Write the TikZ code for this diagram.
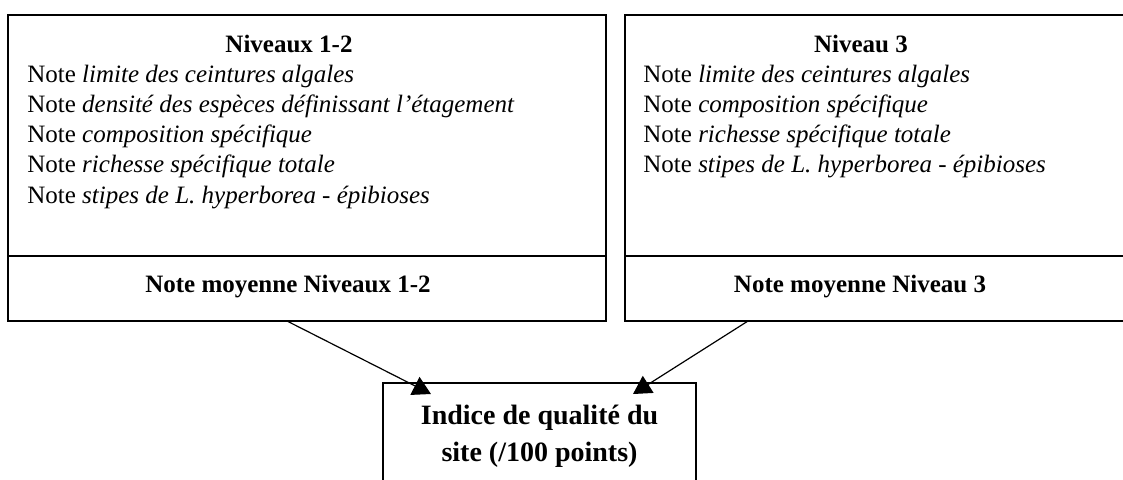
\documentclass[tikz,border=0pt]{standalone}
\usepackage{fontspec}
\setmainfont{Liberation Serif}
\usetikzlibrary{arrows.meta}

\tikzset{
  cadre/.style={draw, line width=0.7pt, inner sep=0pt},
  ligne/.style={anchor=base west, inner sep=0pt, font=\fontsize{12.5}{15}\selectfont},
  titre/.style={anchor=base, inner sep=0pt, font=\fontsize{12.5}{15}\selectfont\bfseries},
  fleche/.style={-{Triangle[width=10pt,length=9pt]}, line width=0.6pt},
}

\begin{document}
\begin{tikzpicture}[x=0.5pt, y=-0.5pt]
    \useasboundingbox (0,0) rectangle (1123,479);

    % 1. Cadres du haut
    \node[cadre, minimum width=299pt, minimum height=120.5pt] (haut12) at (307,135.5) {};
    \node[cadre, minimum width=299pt, minimum height=32.5pt] (bas12) at (307,288.5) {};
    \node[cadre, minimum width=254pt, minimum height=120.5pt] (haut3) at (879,135.5) {};
    \node[cadre, minimum width=254pt, minimum height=32.5pt] (bas3) at (879,288.5) {};

    % 2. Niveaux 1-2
    \node[titre] (t12) at (289,52) {Niveaux 1-2};
    \foreach \txt [count=\i] in {limite des ceintures algales,
        densité des espèces définissant l’étagement,
        composition spécifique,
        richesse spécifique totale,
        stipes de L. hyperborea - épibioses}
        \node[ligne] (a\i) at (27,{82+30.3*(\i-1)}) {Note \textit{\txt}};
    \node[titre] (m12) at (288,292) {Note moyenne Niveaux 1-2};

    % 3. Niveau 3
    \node[titre] (t3) at (861,52) {Niveau 3};
    \foreach \txt [count=\i] in {limite des ceintures algales,
        composition spécifique,
        richesse spécifique totale,
        stipes de L. hyperborea - épibioses}
        \node[ligne] (b\i) at (643,{82+30.3*(\i-1)}) {Note \textit{\txt}};
    \node[titre] (m3) at (860,292) {Note moyenne Niveau 3};

    % 4. Indice du site
    \node[cadre, minimum width=156.5pt, minimum height=68.5pt] (indice) at (539.5,451.5) {};
    \node[titre, font=\fontsize{14}{18.5}\selectfont\bfseries, align=center, anchor=north]
        (ti) at (539.5,405) {Indice de qualité du\\site (/100 points)};

    % 5. Flèches
    \coordinate (d12) at (287,321);
    \coordinate (f12) at (431,394);
    \coordinate (d3) at (748,321);
    \coordinate (f3) at (633,394);
    \draw[fleche] (d12) -- (f12);
    \draw[fleche] (d3) -- (f3);
\end{tikzpicture}
\end{document}
